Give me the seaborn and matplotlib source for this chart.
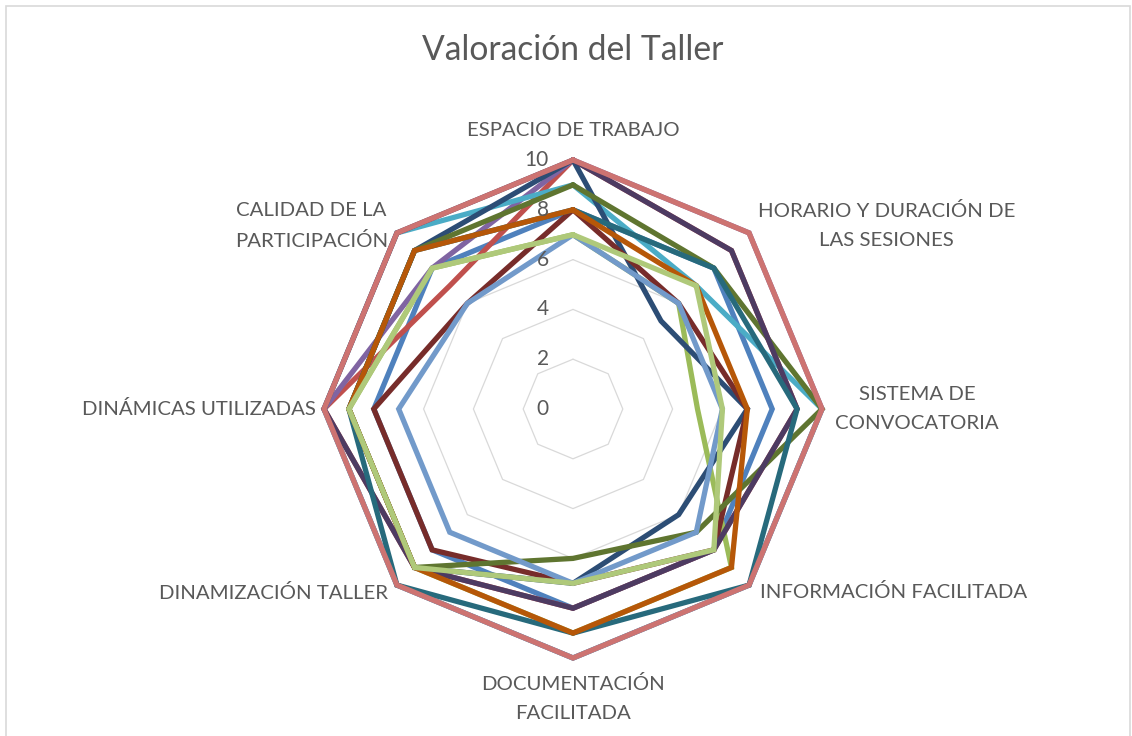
import numpy as np
import pandas as pd
import matplotlib
matplotlib.use("Agg")
import matplotlib.pyplot as plt
from matplotlib.patches import Rectangle
import seaborn as sns

sns.set_theme(style="white")
plt.rcParams['font.family'] = ['Lato', 'DejaVu Sans']
plt.rcParams['lines.solid_joinstyle'] = 'miter'

categorias = ["ESPACIO DE TRABAJO", "HORARIO Y DURACIÓN DE\nLAS SESIONES",
              "SISTEMA DE\nCONVOCATORIA", "INFORMACIÓN FACILITADA",
              "DOCUMENTACIÓN\nFACILITADA", "DINAMIZACIÓN TALLER",
              "DINÁMICAS UTILIZADAS", "CALIDAD DE LA\nPARTICIPACIÓN"]

p01 = [8, 8, 8, 8, 8, 8, 8, 8]
p02 = [10, 9, 9, 8, 8, 9, 10, 7]
p03 = [7, 6, 5, 9, 9, 9, 9, 8]
p04 = [10, 10, 10, 10, 10, 10, 10, 8]
p05 = [9, 7, 10, 10, 10, 10, 10, 10]
p06 = [10, 5, 7, 6, 7, 9, 9, 9]
p07 = [8, 6, 7, 8, 7, 8, 8, 6]
p08 = [9, 8, 10, 7, 6, 9, 9, 9]
p09 = [10, 9, 9, 8, 8, 9, 10, 10]
p10 = [8, 8, 9, 10, 9, 10, 9, 9]
p11 = [8, 7, 7, 9, 9, 9, 9, 9]
p12 = [7, 6, 6, 7, 7, 7, 7, 6]
p13 = [10, 10, 10, 10, 10, 10, 10, 10]
p14 = [7, 7, 6, 8, 7, 9, 9, 8]

series = {"P1": p01, "P2": p02, "P3": p03, "P4": p04, "P5": p05, "P6": p06,
          "P7": p07, "P8": p08, "P9": p09, "P10": p10, "P11": p11,
          "P12": p12, "P13": p13, "P14": p14}
colores = ["#4F81BD", "#C0504D", "#9BBB59", "#8064A2", "#4BACC6", "#2C4D75",
           "#772C2A", "#5F7530", "#4D3B62", "#276A7C", "#B65708", "#729ACA",
           "#CD7371", "#AFC97A"]
ticks = [0, 2, 4, 6, 8, 10]

n = len(categorias)
ang = np.arange(n + 1) * 2 * np.pi / n

rows = []
for name, vals in series.items():
    closed = list(vals) + [vals[0]]
    for k in range(n + 1):
        rows.append({"serie": name, "theta": ang[k], "valor": closed[k]})
df = pd.DataFrame(rows)

W, H = 1132, 736
fig = plt.figure(figsize=(W / 100, H / 100), dpi=100)
fig.patch.set_facecolor("white")
fig.patches.append(Rectangle((6 / W, -0.01), (1130 - 6) / W, 1 - 6 / H + 0.01,
                             transform=fig.transFigure, fill=False,
                             edgecolor="#D9D9D9", linewidth=1.2))

cx, cy, R = 573, 409, 249
ax = fig.add_axes([(cx - R) / W, (H - cy - R) / H, 2 * R / W, 2 * R / H],
                  projection="polar")
ax.set_theta_zero_location("N")
ax.set_theta_direction(-1)
ax.patch.set_alpha(0)

# octagonal gridlines
for t in ticks[1:]:
    ax.plot(ang, [t] * (n + 1), color="#D9D9D9", lw=0.9, zorder=1, clip_on=False)

sns.lineplot(data=df, x="theta", y="valor", hue="serie", palette=colores,
             hue_order=list(series.keys()), sort=False, estimator=None,
             linewidth=3.8, legend=False, ax=ax)
for ln in ax.lines[len(ticks) - 1:]:
    ln.set_clip_on(False)
    ln.set_zorder(3)

ax.set_ylim(0, 10)
ax.set_xticks([])
ax.set_yticks([])
ax.grid(False)
ax.spines["polar"].set_visible(False)
ax.set_xlabel("")
ax.set_ylabel("")

txt = "#595959"
fs = 14.7
for t in ticks:
    ax.annotate(str(t), xy=(0, t), xytext=(-17.5, 0), textcoords="offset points",
                ha="right", va="center", fontsize=15, color=txt)

# label placement (offset in px from the 10-vertex)
lab = [((0, 29), "center", "center"),
       ((9, 7), "left", "center"),
       ((13, 0), "left", "center"),
       ((11, -7), "left", "center"),
       ((0, -17), "center", "top"),
       ((-9, -8), "right", "center"),
       ((-8, 0), "right", "center"),
       ((-9, 7), "right", "center")]
for k, c in enumerate(categorias):
    (dx, dy), ha, va = lab[k]
    ax.annotate(c, xy=(ang[k], 10), xytext=(dx * 0.72, dy * 0.72),
                textcoords="offset points", ha=ha, va=va, fontsize=fs,
                color=txt, multialignment="center", linespacing=1.85)

fig.text(573 / W, 1 - 50 / H, "Valoración del Taller", ha="center", va="center",
         fontsize=24.2, color=txt)

fig.savefig("out.png", dpi=100)
